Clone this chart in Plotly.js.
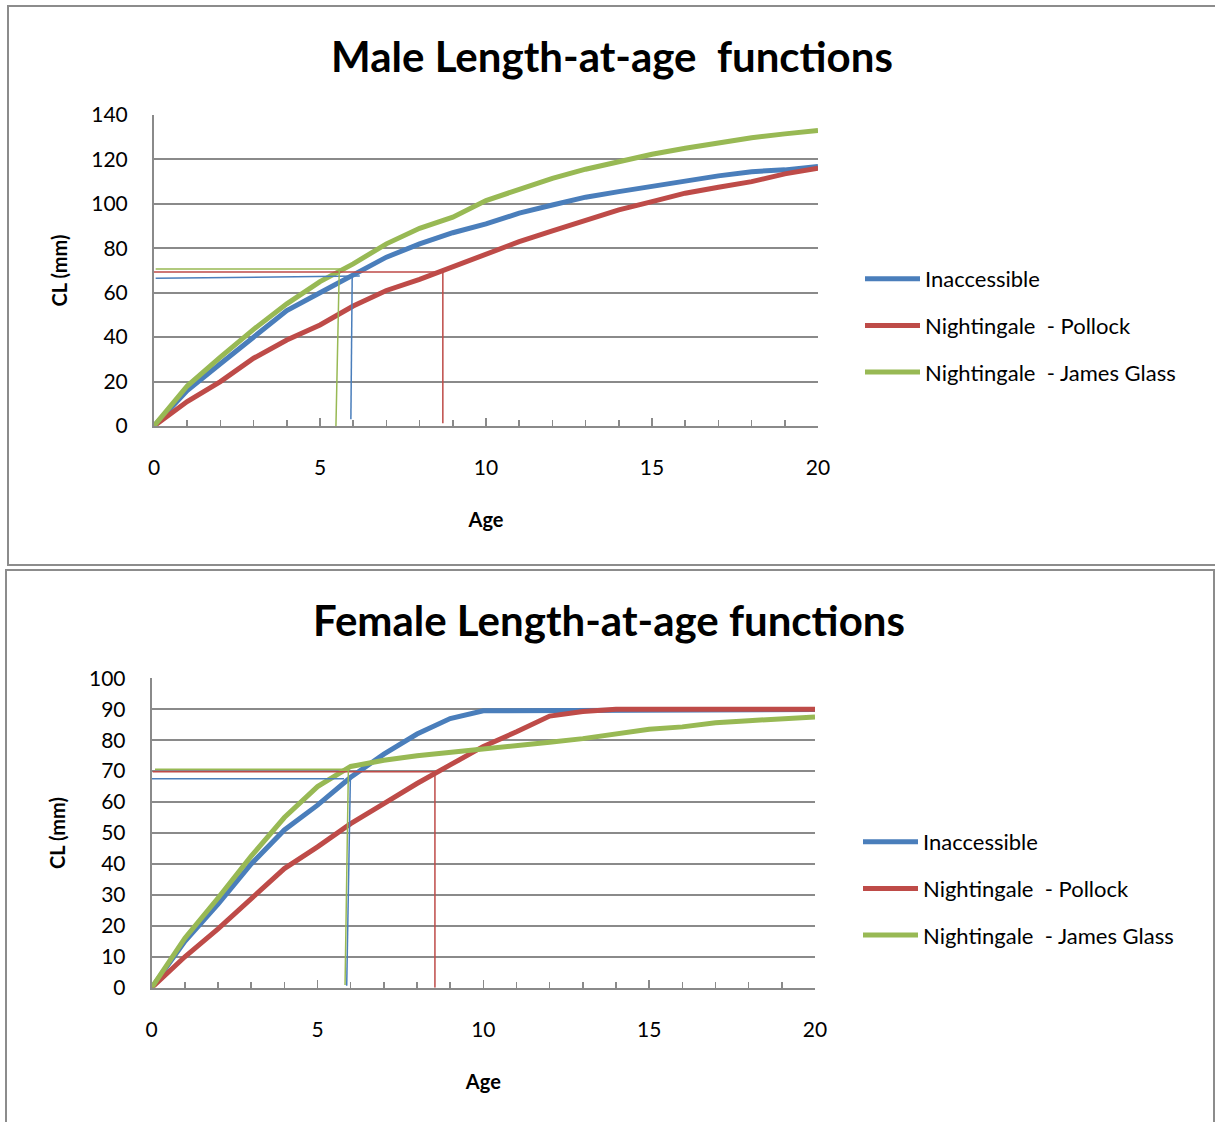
<!DOCTYPE html>
<html>
<head>
<meta charset="utf-8">
<script src="https://cdn.plot.ly/plotly-3.0.1.min.js"></script>
<style>html,body{margin:0;padding:0;background:#fff;}#chart{width:1215px;height:1122px;}</style>
</head>
<body>
<div id="chart"></div>
<script>
// ---------- data ----------
var ages = [0,1,2,3,4,5,6,7,8,9,10,11,12,13,14,15,16,17,18,19,20];
var seriesNames = ["Inaccessible", "Nightingale  - Pollock", "Nightingale  - James Glass"];

// Male length-at-age (CL mm)
var maleInaccessible = [0,16,28,40,52,60,68,76,82,87,91,95.8,99.5,103,105.5,108,110,112.6,114.5,115.3,116.8];
var malePollock      = [0,11,20,30.5,38.7,45.5,54,61,66,71.5,77.5,83,87.8,92.8,97.3,101,104.8,107.5,110,113.5,116];
var maleJamesGlass   = [0,18,31,43.5,55,65,73,82,89,94,101.5,106.6,111.5,115.6,119,122.3,125,127.3,129.8,131.5,133];

// Female length-at-age (CL mm)
var femaleInaccessible = [0,15,27,40,51,59,68,75.5,82,87,89.5,89.5,89.5,89.5,89.8,89.9,89.9,89.9,89.9,89.9,89.9];
var femalePollock      = [0,10,19,29,38.5,45.5,53,59.5,66,72,78,82.7,87.8,89.3,90,90,90,90,90,90,90];
var femaleJamesGlass   = [0,16,29,42.5,55,65,71.5,73.5,75,76,77,78,79.3,80.5,82,83.5,84.3,85.6,86.3,86.9,87.5];

// Reference lines (age at maturity size) - male
var maleRefInaccX = [0.05, 6.2, null, 5.97, 5.93];
var maleRefInaccY = [66.5, 67.5, null, 67.5, 3];
var maleRefPollockX = [-0.1, 8.7, 8.7];
var maleRefPollockY = [69.3, 69.3, 1.2];
var maleRefJamesX = [0.05, 5.58, 5.48];
var maleRefJamesY = [70.7, 70.7, 0];

// Reference lines - female
var femaleRefInaccX = [-0.05, 5.8, null, 5.99, 5.88];
var femaleRefInaccY = [67.5, 67.5, null, 67.5, 0.6];
var femaleRefPollockX = [0.03, 8.54, 8.54];
var femaleRefPollockY = [69.8, 69.8, 0];
var femaleRefJamesX = [0.1, 5.93, 5.83];
var femaleRefJamesY = [70.6, 70.6, 0.9];

var xTickVals = [0,5,10,15,20];
var maleYTicks = [0,20,40,60,80,100,120,140];
var femaleYTicks = [0,10,20,30,40,50,60,70,80,90,100];

// ---------- styling ----------
var colors = ["#4A7EBB", "#BE4B48", "#98B954"];
var FONT = "Lato, 'Open Sans', sans-serif";
var W = 1215, H = 1122;
function px(x){ return x / W; }
function py(y){ return 1 - y / H; }
var gridCol = "#8a8a8a";

function mainTrace(y, i, xa, ya, leg, grp){
  return {x: ages, y: y, type: "scatter", mode: "lines", name: seriesNames[i],
    line: {color: colors[i], width: 5}, xaxis: xa, yaxis: ya, legend: leg,
    legendgroup: grp, hoverinfo: "x+y+name"};
}
function refTrace(x, y, i, xa, ya){
  return {x: x, y: y, type: "scatter", mode: "lines", showlegend: false,
    line: {color: colors[i], width: 1.5}, xaxis: xa, yaxis: ya, hoverinfo: "skip", connectgaps: false};
}

var data = [
  mainTrace(maleInaccessible, 0, "x", "y", "legend", "m0"),
  mainTrace(malePollock, 1, "x", "y", "legend", "m1"),
  mainTrace(maleJamesGlass, 2, "x", "y", "legend", "m2"),
  refTrace(maleRefInaccX, maleRefInaccY, 0, "x", "y"),
  refTrace(maleRefPollockX, maleRefPollockY, 1, "x", "y"),
  refTrace(maleRefJamesX, maleRefJamesY, 2, "x", "y"),
  mainTrace(femaleInaccessible, 0, "x2", "y2", "legend2", "f0"),
  mainTrace(femalePollock, 1, "x2", "y2", "legend2", "f1"),
  mainTrace(femaleJamesGlass, 2, "x2", "y2", "legend2", "f2"),
  refTrace(femaleRefInaccX, femaleRefInaccY, 0, "x2", "y2"),
  refTrace(femaleRefPollockX, femaleRefPollockY, 1, "x2", "y2"),
  refTrace(femaleRefJamesX, femaleRefJamesY, 2, "x2", "y2")
];

function xAxis(domain, anchor){
  return {domain: domain, anchor: anchor, range: [0,20], tickmode: "array", tickvals: xTickVals,
    ticks: "inside", ticklen: 8, tickwidth: 1.5, tickcolor: gridCol,
    minor: {tickmode: "linear", tick0: 0, dtick: 1, ticks: "inside", ticklen: 6, tickwidth: 1.5, tickcolor: gridCol, showgrid: false},
    showline: true, linecolor: gridCol, linewidth: 2, showgrid: false, zeroline: false,
    tickfont: {family: FONT, size: 21, color: "#000"}, ticklabelstandoff: 22,
    title: {text: "Age", font: {family: FONT, size: 20, color: "#000", weight: "bold"}, standoff: 35},
    fixedrange: true};
}
function yAxis(domain, anchor, range, ticks){
  return {domain: domain, anchor: anchor, range: range, tickmode: "array", tickvals: ticks,
    ticks: "", showline: true, linecolor: gridCol, linewidth: 2,
    showgrid: true, gridcolor: gridCol, gridwidth: 2, zeroline: false,
    tickfont: {family: FONT, size: 21, color: "#000"}, ticklabelstandoff: 20,
    title: {text: "CL (mm)", font: {family: FONT, size: 20, color: "#000", weight: "bold"}, standoff: 18},
    fixedrange: true};
}

var layout = {
  width: W, height: H, margin: {l: 0, r: 0, t: 0, b: 0},
  paper_bgcolor: "#fff", plot_bgcolor: "#fff",
  font: {family: FONT, color: "#000"},
  title: {text: "Male Length-at-age  functions", x: px(612), xanchor: "center", y: py(57), yanchor: "middle",
    xref: "paper", yref: "paper", font: {family: FONT, size: 42, weight: "bold", color: "#000"}},
  xaxis: xAxis([px(154), px(818)], "y"),
  yaxis: yAxis([py(426), py(115)], "x", [0,140], maleYTicks),
  xaxis2: xAxis([px(151.7), px(815)], "y2"),
  yaxis2: yAxis([py(987.7), py(678.3)], "x2", [0,100], femaleYTicks),
  legend: {x: px(860), xanchor: "left", y: py(258), yanchor: "top", bgcolor: "rgba(0,0,0,0)",
    font: {family: FONT, size: 22, color: "#000"}, itemwidth: 55, tracegroupgap: 15, traceorder: "grouped"},
  legend2: {x: px(858), xanchor: "left", y: py(821), yanchor: "top", bgcolor: "rgba(0,0,0,0)",
    font: {family: FONT, size: 22, color: "#000"}, itemwidth: 55, tracegroupgap: 15, traceorder: "grouped"},
  annotations: [
    {text: "Female Length-at-age functions", x: px(609), y: py(620), xref: "paper", yref: "paper",
     xanchor: "center", yanchor: "middle", showarrow: false,
     font: {family: FONT, size: 42, weight: "bold", color: "#000"}}
  ],
  shapes: [
    {type: "rect", xref: "paper", yref: "paper", x0: px(8), x1: px(1230), y0: py(565), y1: py(6),
     line: {color: "#8c8c8c", width: 2}, fillcolor: "rgba(0,0,0,0)", layer: "below"},
    {type: "rect", xref: "paper", yref: "paper", x0: px(6), x1: px(1214), y0: py(1135), y1: py(570),
     line: {color: "#8c8c8c", width: 2}, fillcolor: "rgba(0,0,0,0)", layer: "below"}
  ],
  showlegend: true
};

Plotly.newPlot("chart", data, layout, {displayModeBar: false, staticPlot: true});
</script>
</body>
</html>
